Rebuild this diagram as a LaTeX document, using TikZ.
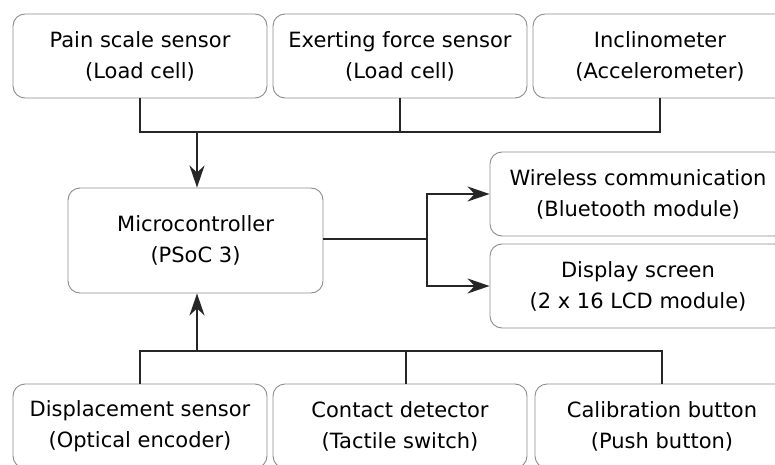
\documentclass[tikz,border=0pt]{standalone}
\usepackage{fontspec}
\setmainfont{DejaVu Sans}
\usetikzlibrary{arrows.meta}
\begin{document}
\begin{tikzpicture}[x=1pt,y=-1pt,
  block/.style={draw=black!45, line width=0.9pt, rounded corners=12pt, fill=white,
    align=center, inner sep=0pt, font=\fontsize{21}{31}\selectfont,
    minimum width=254pt, minimum height=84pt},
  wire/.style={draw=black!85, line width=1.7pt},
  arr/.style={wire, -{Stealth[length=22pt,width=15pt,inset=7pt]}}]
\clip (0,0) rectangle (775,465);
\fill[white] (0,0) rectangle (775,465);
% sensor row on top
\node[block] (pain)  at (140,56) {Pain scale sensor\\(Load cell)};
\node[block] (force) at (400,56) {Exerting force sensor\\(Load cell)};
\node[block] (incl)  at (660,56) {Inclinometer\\(Accelerometer)};
% controller
\node[block, minimum width=255pt, minimum height=105pt] (mcu) at (195.5,240.5) {Microcontroller\\(PSoC 3)};
% outputs
\node[block, minimum width=296pt] (wl)  at (638,194) {Wireless communication\\(Bluetooth module)};
\node[block, minimum width=296pt] (lcd) at (638,286) {Display screen\\(2 x 16 LCD module)};
% input row at the bottom
\node[block] (disp)  at (140,426) {Displacement sensor\\(Optical encoder)};
\node[block] (touch) at (400,426) {Contact detector\\(Tactile switch)};
\node[block] (cal)   at (662,426) {Calibration button\\(Push button)};
% top bus
\coordinate (tb) at (197,132);
\draw[wire] (pain.south) -- (pain.south |- tb) -- (incl.south |- tb) -- (incl.south);
\draw[wire] (force.south) -- (force.south |- tb);
\draw[arr] (tb) -- (mcu.north -| tb);
% output split
\coordinate (sp) at (427,239);
\draw[wire] (mcu.east |- sp) -- (sp);
\draw[arr] (sp) |- (wl.west);
\draw[arr] (sp) |- (lcd.west);
% bottom bus
\coordinate (bb) at (197,351);
\coordinate (tn) at ([xshift=6pt]touch.north);
\draw[wire] (disp.north) -- (disp.north |- bb) -- (cal.north |- bb) -- (cal.north);
\draw[wire] (tn) -- (tn |- bb);
\draw[arr] (bb) -- (mcu.south -| bb);
\end{tikzpicture}
\end{document}
